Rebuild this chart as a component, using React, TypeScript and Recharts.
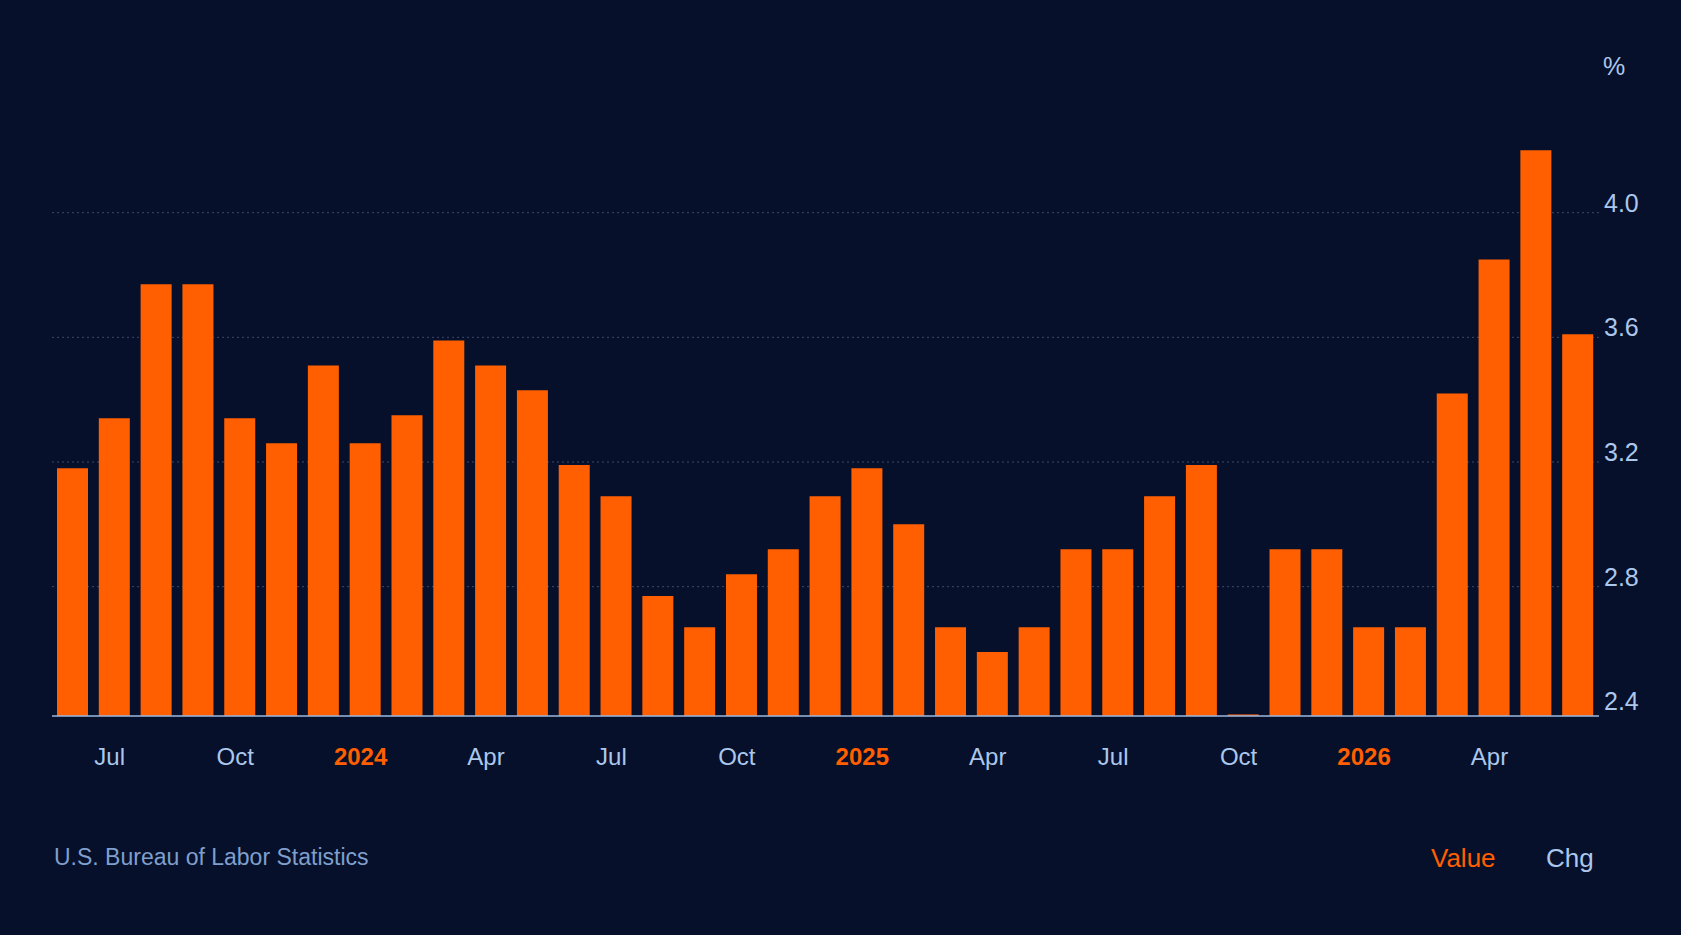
import { BarChart, Bar, XAxis, YAxis, CartesianGrid } from 'recharts'

// monthly readings, Jun 2023 .. Jun 2026
const months = [
  '2023-06', '2023-07', '2023-08', '2023-09', '2023-10', '2023-11', '2023-12',
  '2024-01', '2024-02', '2024-03', '2024-04', '2024-05', '2024-06', '2024-07', '2024-08', '2024-09', '2024-10', '2024-11', '2024-12',
  '2025-01', '2025-02', '2025-03', '2025-04', '2025-05', '2025-06', '2025-07', '2025-08', '2025-09', '2025-10', '2025-11', '2025-12',
  '2026-01', '2026-02', '2026-03', '2026-04', '2026-05', '2026-06',
]

const values = [
  3.18, 3.34, 3.77, 3.77, 3.34, 3.26, 3.51,
  3.26, 3.35, 3.59, 3.51, 3.43, 3.19, 3.09, 2.77, 2.67, 2.84, 2.92, 3.09,
  3.18, 3.0, 2.67, 2.59, 2.67, 2.92, 2.92, 3.09, 3.19, 2.39, 2.92, 2.92,
  2.67, 2.67, 3.42, 3.85, 4.2, 3.61,
]

const tickMonths = ['2023-07', '2023-10', '2024-01', '2024-04', '2024-07', '2024-10', '2025-01', '2025-04', '2025-07', '2025-10', '2026-01', '2026-04']
const tickText = ['Jul', 'Oct', '2024', 'Apr', 'Jul', 'Oct', '2025', 'Apr', 'Jul', 'Oct', '2026', 'Apr']

const yTicks = [2.4, 2.8, 3.2, 3.6, 4.0]
const gridValues = [2.8, 3.2, 3.6, 4.0]

const BG = '#07102a'
const ORANGE = '#ff5f00'
const LIGHT = '#abc7ec'
const MUTED = '#7f9fcc'
const FONT = '"Liberation Sans", Arial, sans-serif'

const data = months.map((m, i) => ({ month: m, value: values[i] }))

function MonthTick({ x, y, payload }: any) {
  const idx = tickMonths.indexOf(payload.value)
  if (idx < 0) return null
  const label = tickText[idx]
  const isYear = /^\d{4}$/.test(label)
  return (
    <text x={x - 5} y={y + 38} dy="0.36em" textAnchor="middle"
      fill={isYear ? ORANGE : LIGHT} fontSize={24} fontWeight={isYear ? 700 : 400} fontFamily={FONT}>
      {label}
    </text>
  )
}

function ValueTick({ x, y, payload }: any) {
  return (
    <text x={x} y={y - 10} dy="0.36em" textAnchor="start" fill={LIGHT} fontSize={25} fontFamily={FONT}>
      {Number(payload.value).toFixed(1)}
    </text>
  )
}

export default function App() {
  return (
    <div style={{ position: 'relative', width: 1681, height: 935, background: BG, fontFamily: FONT, overflow: 'hidden' }}>
      <style>{'body{margin:0;background:' + BG + '}'}</style>
      <BarChart width={1681} height={800} data={data} margin={{ top: 88, right: 12, bottom: 24, left: 52 }}>
        <CartesianGrid vertical={false} horizontalValues={gridValues} stroke="#3b4b6c" strokeDasharray="2 3" />
        <XAxis dataKey="month" interval={0} tick={<MonthTick />} tickSize={0} tickLine={false}
          axisLine={{ stroke: '#9cb8e0', strokeWidth: 1.5 }} height={60} />
        <YAxis orientation="right" type="number" domain={[2.385, 4.4]} ticks={yTicks} tick={<ValueTick />}
          tickSize={0} tickMargin={5} tickLine={false} axisLine={false} width={70} />
        <Bar dataKey="value" fill={ORANGE} barSize={31} isAnimationActive={false} />
      </BarChart>
      <div style={{ position: 'absolute', left: 1603, top: 52, fontSize: 25, color: LIGHT }}>%</div>
      <div style={{ position: 'absolute', left: 54, top: 844, fontSize: 23, color: MUTED, whiteSpace: 'nowrap' }}>
        U.S. Bureau of Labor Statistics
      </div>
      <div style={{ position: 'absolute', left: 1431, top: 843, fontSize: 26, color: ORANGE }}>Value</div>
      <div style={{ position: 'absolute', left: 1546, top: 843, fontSize: 26, color: LIGHT }}>Chg</div>
    </div>
  )
}
